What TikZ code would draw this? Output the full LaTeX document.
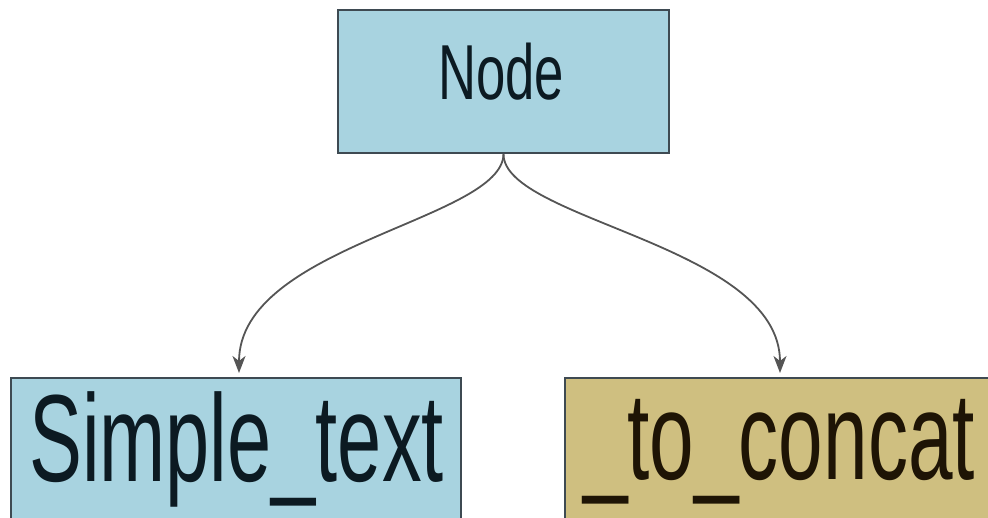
\documentclass[tikz,border=0pt]{standalone}
\usepackage{fontspec}
\setmainfont{Liberation Sans}
\usetikzlibrary{arrows.meta}
\definecolor{boxblue}{HTML}{A8D3E0}
\definecolor{boxtan}{HTML}{CFBF80}
\definecolor{edgegray}{HTML}{3E4A52}
\definecolor{linkgray}{HTML}{555555}
\definecolor{inkblue}{HTML}{0C1A22}
\definecolor{inkbrown}{HTML}{1E1405}
\tikzset{
  box/.style={draw=edgegray, line width=1.8pt, rectangle, inner sep=0pt},
  word/.style={anchor=base, inner sep=0pt},
  link/.style={draw=linkgray, line width=1.8pt,
    -{Stealth[length=17pt,width=13pt,inset=5pt]}, shorten >=5pt},
}
\newcommand{\narrow}[3]{\scalebox{#1}[1]{\fontsize{#2}{#2}\selectfont #3}}
\begin{document}
\begin{tikzpicture}[x=1pt,y=-1pt]
  \useasboundingbox (0,0) rectangle (988,518);
  \clip (0,0) rectangle (988,518);
  % boxes
  \node[box, fill=boxblue, minimum width=331pt, minimum height=143pt] (root) at (503.5,81.5) {};
  \node[box, fill=boxblue, minimum width=450pt, minimum height=144pt] (left) at (236,450) {};
  \node[box, fill=boxtan, minimum width=440pt, minimum height=144pt] (right) at (785,450) {};
  % labels
  \node[word, text=inkblue] (rootlabel) at (501,100) {\narrow{0.675}{78pt}{Node}};
  \node[word, text=inkblue] (leftlabel) at (236.5,481) {\narrow{0.64}{124pt}{Simple\_text}};
  \node[word, text=inkbrown] (rightlabel) at (779,479) {\narrow{0.646}{124pt}{\_to\_concat}};
  % connectors
  \coordinate (lefttip) at (239,378);
  \coordinate (righttip) at (780,378);
  \draw[link] (root.south) .. controls (503,220) and (239,245) .. (lefttip);
  \draw[link] (root.south) .. controls (503,220) and (780,245) .. (righttip);
\end{tikzpicture}
\end{document}
